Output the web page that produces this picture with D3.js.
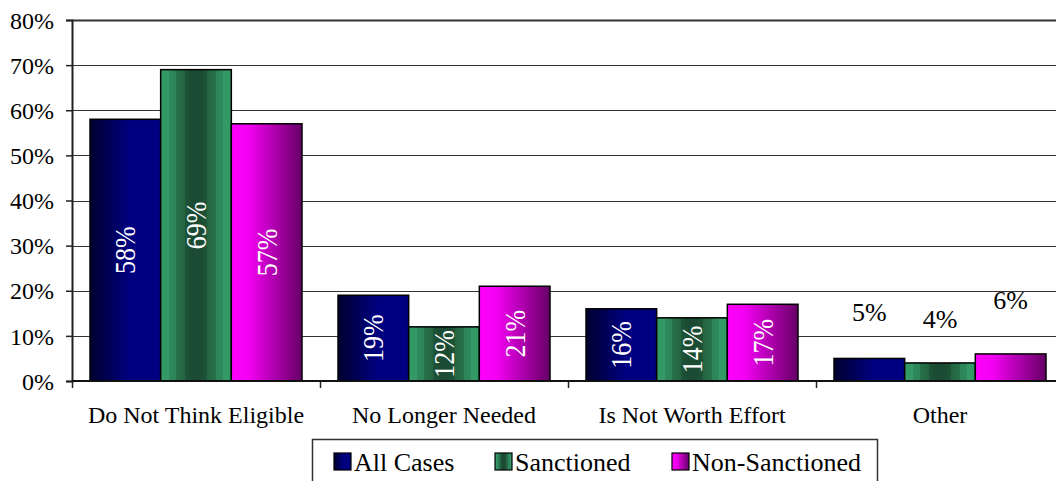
<!DOCTYPE html>
<html>
<head>
<meta charset="utf-8">
<script src="https://cdn.jsdelivr.net/npm/d3@7"></script>
</head>
<body style="margin:0">
<svg id="chart" width="1056" height="481" font-family="Liberation Serif, Times New Roman, serif"></svg>
<script>
// Reasons for not applying, by case type (percent of respondents)
const categories = ["Do Not Think Eligible", "No Longer Needed", "Is Not Worth Effort", "Other"];
const seriesNames = ["All Cases", "Sanctioned", "Non-Sanctioned"];
const allCases      = [58, 19, 16, 5];
const sanctioned    = [69, 12, 14, 4];
const nonSanctioned = [57, 21, 17, 6];
const yTicks = [0, 10, 20, 30, 40, 50, 60, 70, 80];

const seriesValues = [allCases, sanctioned, nonSanctioned];
const FONT = "Liberation Serif";

// Layout
const svg = d3.select("#chart");
const plotLeft = 72, plotBottom = 381, plotTop = 20, bandW = 248;
const plotRight = plotLeft + bandW * categories.length;
const groupPad = 18;                 // empty space on each side of a bar group
const smallLabelLift = [37, 35, 45]; // how far above the bar short-bar labels sit
const smallThreshold = 8;            // bars shorter than this get their label above
const legendItemX = [334, 495, 672]; // left edge of each legend swatch

const x0 = d3.scaleBand().domain(categories).range([plotLeft, plotRight]).padding(0);
const x1 = d3.scaleBand().domain(seriesNames).range([groupPad, x0.bandwidth() - groupPad]).padding(0);
const y = d3.scaleLinear().domain([0, 80]).range([plotBottom, plotTop]);

// Gradients: cylinder-like fills
const defs = svg.append("defs");
function grad(id, stops) {
  const g = defs.append("linearGradient").attr("id", id)
    .attr("x1", "0%").attr("x2", "100%").attr("y1", "0%").attr("y2", "0%");
  stops.forEach(([o, c]) => g.append("stop").attr("offset", o).attr("stop-color", c));
}
grad("gBlue", [[0, "#00002e"], [0.55, "#000080"], [1, "#000080"]]);
grad("gGreen", [
  [0, "#339966"], [0.12, "#339966"], [0.12, "#2f8a5d"], [0.22, "#2d8259"],
  [0.22, "#27714d"], [0.34, "#23653f"], [0.34, "#1f5538"], [0.44, "#1b4b33"],
  [0.56, "#1b4b33"], [0.66, "#1f5538"], [0.66, "#23653f"], [0.78, "#27714d"],
  [0.78, "#2d8259"], [0.88, "#2f8a5d"], [0.88, "#339966"], [1, "#339966"]
]);
grad("gMagenta", [[0, "#ff00ff"], [0.25, "#f200f2"], [1, "#660066"]]);
const fills = ["url(#gBlue)", "url(#gGreen)", "url(#gMagenta)"];

// Horizontal gridlines
svg.append("g").selectAll("line").data(yTicks.filter(t => t > 0)).join("line")
  .attr("x1", plotLeft).attr("x2", 1056)
  .attr("y1", d => Math.round(y(d)) + 0.5).attr("y2", d => Math.round(y(d)) + 0.5)
  .attr("stroke", "#333").attr("stroke-width", d => d === 80 ? 2 : 1.2);

// Y axis
const yAxis = svg.append("g").attr("transform", `translate(${plotLeft},0)`)
  .call(d3.axisLeft(y).tickValues(yTicks).tickFormat(d => d + "%").tickSize(6).tickPadding(12));
yAxis.attr("font-family", null).attr("font-size", null);
yAxis.select(".domain").attr("stroke", "#222").attr("stroke-width", 2);
yAxis.selectAll(".tick line").attr("stroke", "#222").attr("stroke-width", 1.5);
yAxis.selectAll(".tick text").style("font-family", FONT).attr("font-size", 24)
  .attr("fill", "#000").attr("dy", "0.34em");

// Bars
const groups = svg.append("g").selectAll("g").data(categories).join("g")
  .attr("transform", d => `translate(${x0(d)},0)`);

groups.each(function (cat, ci) {
  const g = d3.select(this);
  seriesNames.forEach((s, si) => {
    const v = seriesValues[si][ci];
    g.append("rect")
      .attr("x", x1(s)).attr("y", y(v))
      .attr("width", x1.bandwidth()).attr("height", y(0) - y(v))
      .attr("fill", fills[si]).attr("stroke", "#000").attr("stroke-width", 1.5);
  });
});

// Value labels
groups.each(function (cat, ci) {
  const g = d3.select(this);
  seriesNames.forEach((s, si) => {
    const v = seriesValues[si][ci];
    const cx = x1(s) + x1.bandwidth() / 2;
    if (v >= smallThreshold) {
      const cy = (y(v) + y(0)) / 2;
      g.append("text")
        .attr("transform", `translate(${cx},${cy}) scale(1.12,1) rotate(-90)`)
        .attr("text-anchor", "middle").attr("dy", "0.34em")
        .style("font-family", FONT).attr("font-size", 26).attr("fill", "#fff")
        .text(v + "%");
    } else {
      g.append("text")
        .attr("x", cx).attr("y", y(v) - smallLabelLift[si])
        .attr("text-anchor", "middle")
        .style("font-family", FONT).attr("font-size", 26).attr("fill", "#000")
        .text(v + "%");
    }
  });
});

// X axis baseline with ticks at category boundaries
svg.append("line").attr("x1", plotLeft).attr("x2", 1056)
  .attr("y1", plotBottom).attr("y2", plotBottom).attr("stroke", "#111").attr("stroke-width", 2);
svg.append("g").selectAll("line").data(categories).join("line")
  .attr("x1", d => Math.round(x0(d)) + 0.5).attr("x2", d => Math.round(x0(d)) + 0.5)
  .attr("y1", plotBottom).attr("y2", plotBottom + 7).attr("stroke", "#222").attr("stroke-width", 1.5);

// Category labels
svg.append("g").selectAll("text").data(categories).join("text")
  .attr("x", d => x0(d) + x0.bandwidth() / 2).attr("y", 423)
  .attr("text-anchor", "middle")
  .style("font-family", FONT).attr("font-size", 24).attr("fill", "#000")
  .text(d => d);

// Legend
const legend = svg.append("g");
legend.append("rect").attr("x", 312.5).attr("y", 439.5).attr("width", 565).attr("height", 50)
  .attr("fill", "#fff").attr("stroke", "#333").attr("stroke-width", 1.5);
const items = legend.selectAll("g.item").data(seriesNames).join("g").attr("class", "item")
  .attr("transform", (d, i) => `translate(${legendItemX[i]},0)`);
items.append("rect").attr("x", 0).attr("y", 453).attr("width", 17).attr("height", 17)
  .attr("fill", (d, i) => fills[i]).attr("stroke", "#000").attr("stroke-width", 1.2);
items.append("text").attr("x", 20).attr("y", 471)
  .style("font-family", FONT).attr("font-size", 26).attr("fill", "#000")
  .text(d => d);
</script>
</body>
</html>
